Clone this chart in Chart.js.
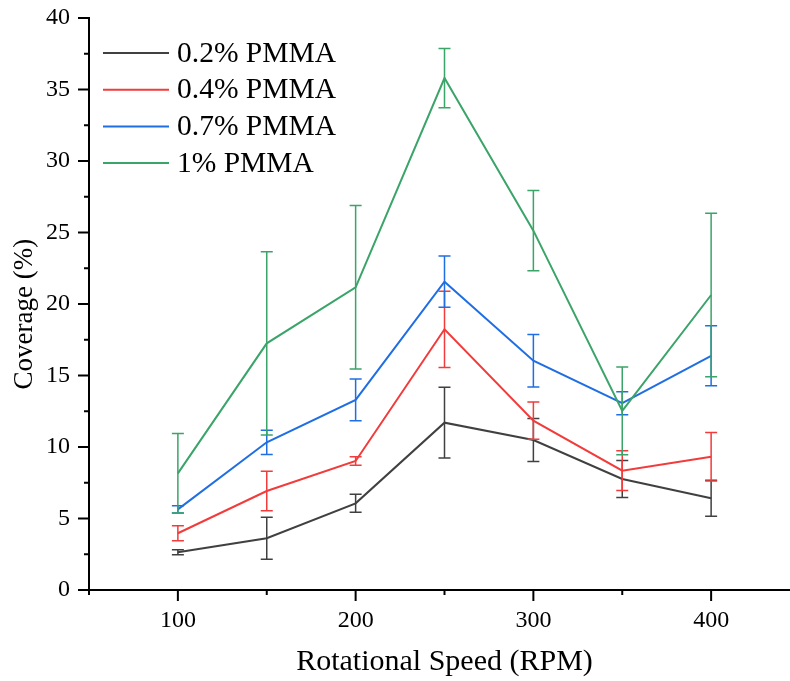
<!DOCTYPE html>
<html>
<head>
<meta charset="utf-8">
<script src="https://cdn.jsdelivr.net/npm/chart.js@4"></script>
<style>
  html, body { margin: 0; padding: 0; background: #fff; overflow: hidden; }
  #wrap { width: 800px; height: 681px; }
</style>
</head>
<body>
<div id="wrap"><canvas id="coverage" width="800" height="681"></canvas></div>
<script>
// ── Data: coverage (%) vs rotational speed, mean ± error ─────
const speeds   = [100, 150, 200, 250, 300, 350, 400];
const seriesNames = ['0.2% PMMA', '0.4% PMMA', '0.7% PMMA', '1% PMMA'];
const pmma02    = [2.64, 3.62, 6.06, 11.70, 10.49, 7.76, 6.41];
const pmma02Err = [0.17, 1.47, 0.63, 2.47, 1.50, 1.30, 1.26];
const pmma04    = [3.97, 6.92, 9.02, 18.23, 11.84, 8.34, 9.32];
const pmma04Err = [0.53, 1.38, 0.29, 2.67, 1.30, 1.39, 1.70];
const pmma07    = [5.64, 10.33, 13.29, 21.56, 16.03, 13.06, 16.38];
const pmma07Err = [0.25, 0.85, 1.46, 1.79, 1.83, 0.80, 2.10];
const pmma10    = [8.16, 17.25, 21.17, 35.80, 25.13, 12.52, 20.63];
const pmma10Err = [2.78, 6.41, 5.71, 2.07, 2.80, 3.07, 5.72];

const colors = ['#404040', '#f23b3b', '#1f6ee3', '#3aa469'];
const FONT = "'Liberation Serif', 'Times New Roman', serif";

const toPoints = vals => vals.map((v, i) => ({ x: speeds[i], y: v }));

// ── Error bars, drawn right after each dataset ────────────────
const errorBars = {
  id: 'errorBars',
  afterDatasetDraw(chart, args) {
    const ds = chart.data.datasets[args.index];
    if (!ds.errors) return;
    const { ctx, scales: { x, y } } = chart;
    const cap = 6;
    ctx.save();
    ctx.strokeStyle = ds.borderColor;
    ctx.lineWidth = 1.5;
    ds.data.forEach((p, i) => {
      const px = x.getPixelForValue(p.x);
      const hi = y.getPixelForValue(p.y + ds.errors[i]);
      const lo = y.getPixelForValue(p.y - ds.errors[i]);
      ctx.beginPath();
      ctx.moveTo(px, hi); ctx.lineTo(px, lo);
      ctx.moveTo(px - cap, hi); ctx.lineTo(px + cap, hi);
      ctx.moveTo(px - cap, lo); ctx.lineTo(px + cap, lo);
      ctx.stroke();
    });
    ctx.restore();
  }
};

// ── Outward tick marks: long at labelled values, short between ─
const tickMarks = {
  id: 'tickMarks',
  afterDraw(chart) {
    const { ctx, scales: { x, y }, chartArea: area } = chart;
    ctx.save();
    ctx.strokeStyle = '#000';
    ctx.lineWidth = 2;
    x.ticks.forEach(t => {
      const px = x.getPixelForValue(t.value);
      const len = t.value % 100 === 0 ? 11 : 5;
      ctx.beginPath();
      ctx.moveTo(px, area.bottom);
      ctx.lineTo(px, area.bottom + len);
      ctx.stroke();
    });
    y.ticks.forEach(t => {
      const py = y.getPixelForValue(t.value);
      const len = t.value % 5 === 0 ? 11 : 5;
      ctx.beginPath();
      ctx.moveTo(area.left, py);
      ctx.lineTo(area.left - len, py);
      ctx.stroke();
    });
    ctx.restore();
  }
};

// ── Legend in the upper-left of the plot ──────────────────────
const innerLegend = {
  id: 'innerLegend',
  afterDraw(chart) {
    const { ctx, chartArea: area } = chart;
    ctx.save();
    ctx.font = `29.5px ${FONT}`;
    ctx.textBaseline = 'middle';
    ctx.fillStyle = '#000';
    chart.data.datasets.forEach((ds, i) => {
      const yy = area.top + 35 + i * 36.7;
      ctx.strokeStyle = ds.borderColor;
      ctx.lineWidth = 2;
      ctx.beginPath();
      ctx.moveTo(area.left + 14, yy);
      ctx.lineTo(area.left + 80, yy);
      ctx.stroke();
      ctx.fillText(ds.label, area.left + 88, yy + 1);
    });
    ctx.restore();
  }
};

const seriesVals = [pmma02, pmma04, pmma07, pmma10];
const seriesErrs = [pmma02Err, pmma04Err, pmma07Err, pmma10Err];

new Chart(document.getElementById('coverage').getContext('2d'), {
  type: 'line',
  data: {
    datasets: seriesVals.map((vals, i) => ({
      label:       seriesNames[i],
      data:        toPoints(vals),
      errors:      seriesErrs[i],
      borderColor: colors[i],
      borderWidth: 2,
      pointRadius: 0,
      tension:     0,
      fill:        false,
      order:       seriesVals.length - i
    }))
  },
  options: {
    responsive: false,
    animation:  false,
    layout: { padding: { top: 18, right: 0, bottom: 0, left: 0 } },
    plugins: {
      legend:  { display: false },
      tooltip: { enabled: false }
    },
    scales: {
      x: {
        type: 'linear',
        min: 50,
        max: 450,
        grid:   { display: false, drawTicks: false },
        border: { display: true, color: '#000', width: 2 },
        ticks: {
          stepSize: 50,
          autoSkip: false,
          maxRotation: 0,
          padding: 16,
          color: '#000',
          font: { family: FONT, size: 24 },
          callback: v => (v % 100 === 0 ? String(v) : '')
        },
        title: {
          display: true,
          text: 'Rotational Speed (RPM)',
          color: '#000',
          font: { family: FONT, size: 30 },
          padding: { top: 0, bottom: 1 }
        },
        // fixed axis band; no extra side padding for end labels
        afterFit: s => { s.height = 91; s.paddingLeft = 0; s.paddingRight = 0; }
      },
      y: {
        min: 0,
        max: 40,
        grid:   { display: false, drawTicks: false },
        border: { display: true, color: '#000', width: 2 },
        ticks: {
          stepSize: 2.5,
          autoSkip: false,
          padding: 19,
          color: '#000',
          font: { family: FONT, size: 24 },
          callback: v => (v % 5 === 0 ? String(v) : '')
        },
        title: {
          display: true,
          text: 'Coverage (%)   ',
          color: '#000',
          font: { family: FONT, size: 27 },
          padding: { top: 9, bottom: 0 }
        },
        afterFit: s => { s.width = 89; s.paddingTop = 0; s.paddingBottom = 0; }
      }
    }
  },
  plugins: [errorBars, tickMarks, innerLegend]
});
</script>
</body>
</html>
